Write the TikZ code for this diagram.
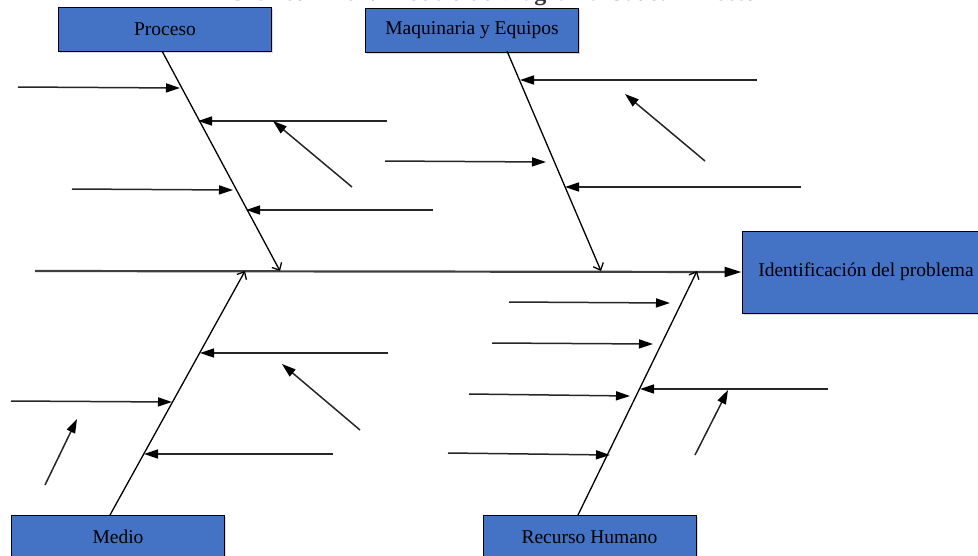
\documentclass[tikz,border=0pt]{standalone}
\usepackage{fontspec}
\setmainfont{Liberation Serif}
\usetikzlibrary{arrows.meta,shadows}

\definecolor{catblue}{HTML}{4472C4}
\definecolor{spinegray}{HTML}{404040}
\definecolor{causegray}{HTML}{262626}

\tikzset{
  catbox/.style={draw=black, line width=0.9pt, fill=catblue, inner sep=0pt,
    minimum width=213pt, minimum height=44pt,
    font=\fontsize{19.5}{22}\selectfont,
    drop shadow={shadow xshift=1.5pt, shadow yshift=-2pt, fill=black, opacity=0.15}},
  effectbox/.style={catbox, minimum width=248pt, minimum height=82pt},
  spine/.style={draw=spinegray, line width=2.2pt, -{Triangle[length=17pt,width=10pt,color=black]}},
  bone/.style={draw=black, line width=1.3pt, -{Straight Barb[length=6pt,width=11pt]}},
  cause/.style={draw=causegray, line width=1.5pt, -{Triangle[length=14pt,width=9pt,color=black]}},
}

\begin{document}
\begin{tikzpicture}[x=1pt,y=-1pt]
\useasboundingbox (0,0) rectangle (978,555);
\clip (0,0) rectangle (978,555);

% caption, cut by the top edge of the page
\node[anchor=base, font=\fontsize{24}{26}\selectfont\bfseries, text=black!80] (title)
  at (492,0.6) {Gráfico N° 01: Modelo de Diagrama Causa - Efecto};

% category and effect boxes
\node[catbox] (proc) at (165,29) {Proceso};
\node[catbox] (maq)  at (472,30) {Maquinaria y Equipos};
\node[catbox] (med)  at (118,537) {Medio};
\node[catbox] (rrhh) at (589.5,537) {Recurso Humano};
\node[effectbox] (prob) at (866,272) {Identificación del problema};

% main spine
\coordinate (s0) at (35,271);
\draw[spine] (s0) -- (prob.west);

% main bones: box edge -> spine
\coordinate (pTop) at (162,51);   \coordinate (pEnd) at (280,271);
\coordinate (mTop) at (507,51);   \coordinate (mEnd) at (601,271);
\coordinate (dBot) at (110,515);  \coordinate (dEnd) at (245,271);
\coordinate (rBot) at (578,515);  \coordinate (rEnd) at (697,271);
\draw[bone] (pTop) -- (pEnd);
\draw[bone] (mTop) -- (mEnd);
\draw[bone] (dBot) -- (dEnd);
\draw[bone] (rBot) -- (rEnd);

% causes on "Proceso"
\coordinate (p1a) at (18,87);   \coordinate (p1b) at (180,88);
\coordinate (p2a) at (387,121); \coordinate (p2b) at (198,121);
\coordinate (p3a) at (352,187); \coordinate (p3b) at (273,121);
\coordinate (p4a) at (72,189);  \coordinate (p4b) at (233,190);
\coordinate (p5a) at (433,210); \coordinate (p5b) at (246,210);
\foreach \c in {p1,p2,p3,p4,p5} \draw[cause] (\c a) -- (\c b);

% causes on "Maquinaria y Equipos"
\coordinate (m1a) at (757,80);  \coordinate (m1b) at (520,80);
\coordinate (m2a) at (705,161); \coordinate (m2b) at (625,94);
\coordinate (m3a) at (385,161); \coordinate (m3b) at (546,162);
\coordinate (m4a) at (801,187); \coordinate (m4b) at (565,187);
\foreach \c in {m1,m2,m3,m4} \draw[cause] (\c a) -- (\c b);

% causes on "Medio"
\coordinate (d1a) at (388,353); \coordinate (d1b) at (200,353);
\coordinate (d2a) at (360,430); \coordinate (d2b) at (282,364);
\coordinate (d3a) at (11,401);  \coordinate (d3b) at (172,402);
\coordinate (d4a) at (45,485);  \coordinate (d4b) at (77,419);
\coordinate (d5a) at (333,454); \coordinate (d5b) at (144,454);
\foreach \c in {d1,d2,d3,d4,d5} \draw[cause] (\c a) -- (\c b);

% causes on "Recurso Humano"
\coordinate (r1a) at (509,302); \coordinate (r1b) at (670,303);
\coordinate (r2a) at (492,343); \coordinate (r2b) at (653,344);
\coordinate (r3a) at (469,394); \coordinate (r3b) at (630,396);
\coordinate (r4a) at (828,389); \coordinate (r4b) at (640,389);
\coordinate (r5a) at (695,455); \coordinate (r5b) at (728,390);
\coordinate (r6a) at (448,453); \coordinate (r6b) at (610,455);
\foreach \c in {r1,r2,r3,r4,r5,r6} \draw[cause] (\c a) -- (\c b);
\end{tikzpicture}
\end{document}
